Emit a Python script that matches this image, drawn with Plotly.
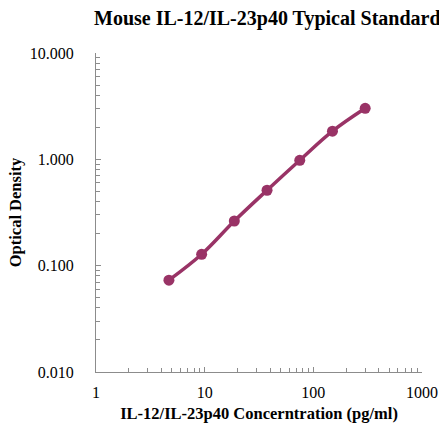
import plotly.graph_objects as go

concentration = [4.69, 9.38, 18.75, 37.5, 75, 150, 300]
optical_density = [0.073, 0.128, 0.263, 0.512, 0.98, 1.84, 3.02]

x_tickvals = [1, 10, 100, 1000]
x_ticktext = ["1", "10", "100", "1000"]
y_tickvals = [0.01, 0.1, 1, 10]
y_ticktext = ["0.010", "0.100", "1.000", "10.000"]

x_minor = [m * d for d in (1, 10, 100) for m in range(2, 10)]
y_minor = [m * d for d in (0.01, 0.1, 1) for m in range(2, 10)]

color = "#993366"
axis_gray = "#8c8c8c"
serif = "Liberation Serif, Times New Roman, serif"

W, H = 439, 423

fig = go.Figure()
fig.add_trace(go.Scatter(
    x=concentration, y=optical_density,
    mode="lines+markers",
    line=dict(color=color, width=3.5, shape="spline"),
    marker=dict(color=color, size=11),
    showlegend=False,
))

fig.update_layout(
    width=W, height=H,
    margin=dict(l=96, r=17, t=53, b=51),
    paper_bgcolor="white", plot_bgcolor="white",
    font=dict(family=serif, color="black"),
    title=dict(
        text="<b>Mouse IL-12/IL-23p40 Typical Standard Curve</b>",
        font=dict(family=serif, size=20, color="black"),
        xref="container", x=94 / W, xanchor="left",
        yref="container", y=1 - 18 / H, yanchor="middle",
    ),
)

fig.update_xaxes(
    type="log", range=[0, 3], automargin=False,
    tickvals=x_tickvals, ticktext=x_ticktext,
    showline=True, linecolor=axis_gray, linewidth=1,
    ticks="inside", ticklen=5, tickcolor=axis_gray,
    minor=dict(ticks="inside", ticklen=4, tickcolor=axis_gray,
               tickvals=x_minor, showgrid=False),
    showgrid=False, zeroline=False,
    tickfont=dict(family=serif, size=16, color="black"),
    ticklabelstandoff=6, ticklabeloverflow="allow",
    title=dict(text="<b>IL-12/IL-23p40 Concerntration (pg/ml)</b>",
               font=dict(family=serif, size=16.5, color="black"), standoff=7),
)
fig.update_yaxes(
    type="log", range=[-2, 1], automargin=False,
    tickvals=y_tickvals, ticktext=y_ticktext,
    showline=True, linecolor=axis_gray, linewidth=1,
    ticks="inside", ticklen=5, tickcolor=axis_gray,
    minor=dict(ticks="inside", ticklen=4, tickcolor=axis_gray,
               tickvals=y_minor, showgrid=False),
    showgrid=False, zeroline=False,
    tickfont=dict(family=serif, size=16, color="black"),
    ticklabelstandoff=18, ticklabeloverflow="allow",
    title=dict(text="<b>Optical Density</b>",
               font=dict(family=serif, size=16.5, color="black"), standoff=4),
)

fig.write_html(
    "out.html",
    config={"displayModeBar": False},
    post_script="document.body.style.margin='0';document.body.style.overflow='hidden';",
)
